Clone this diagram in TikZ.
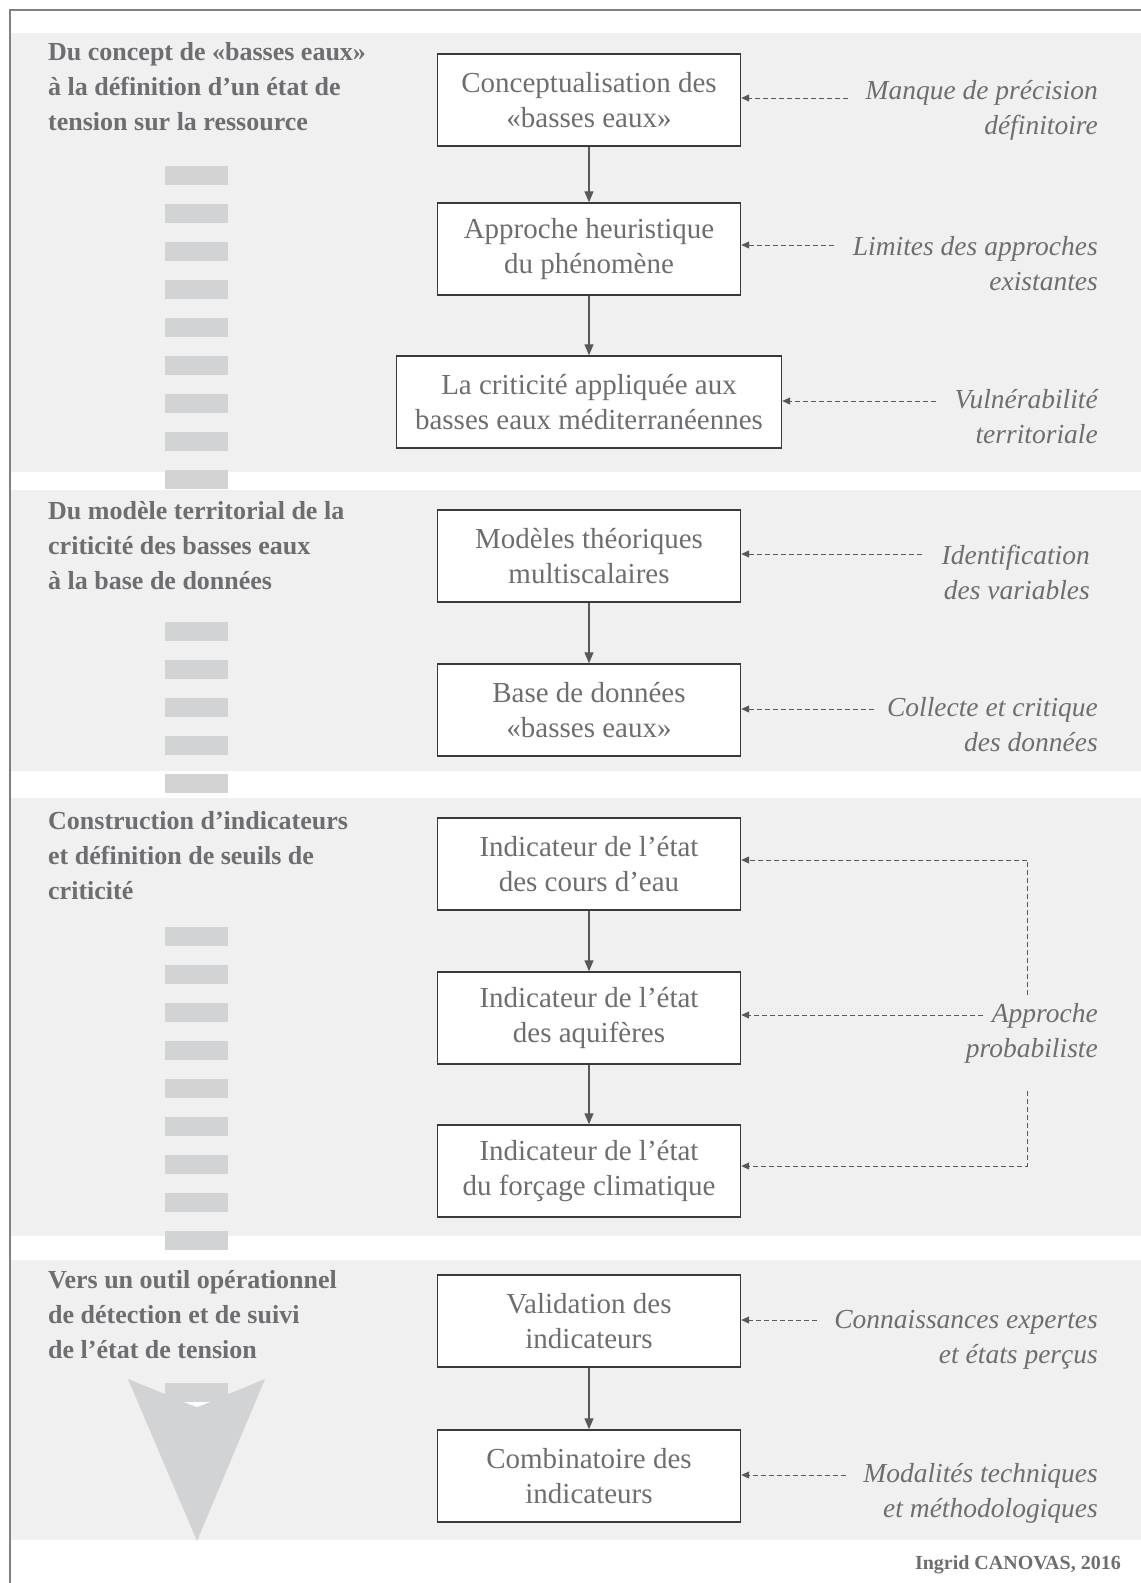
\documentclass[tikz,border=0pt]{standalone}
\usepackage{fontspec}
\setmainfont{Liberation Serif}
\usetikzlibrary{arrows.meta,calc}
\definecolor{band}{HTML}{F0F0F0}
\definecolor{dashc}{HTML}{D1D3D4}
\definecolor{txt}{HTML}{6D6E71}
\definecolor{boxline}{HTML}{3A3A3A}
\definecolor{arr}{HTML}{58595B}
\begin{document}
\begin{tikzpicture}[x=1pt,y=-1pt,
  stepbox/.style={draw=boxline, line width=1.4pt, fill=white, minimum width=303pt, minimum height=92pt, align=center, text=txt, font=\fontsize{29}{35}\selectfont, inner sep=0pt},
  lab/.style={align=right, text=txt, font=\fontsize{27.5}{35}\selectfont\itshape, anchor=east, inner sep=0pt},
  head/.style={align=left, text=txt, font=\fontsize{26}{35}\selectfont\bfseries, anchor=north west, inner sep=0pt},
  flow/.style={draw=arr, line width=1.2pt, -{Triangle[length=11pt,width=9pt]}},
  hint/.style={draw=arr, line width=1pt, dash pattern=on 5pt off 3pt, -{Triangle[length=8pt,width=7pt]}},
  hintline/.style={draw=arr, line width=1pt, dash pattern=on 5pt off 3pt},
  dsh/.style={fill=dashc}]
\useasboundingbox (0,0) rectangle (1141,1583);
\clip (0,0) rectangle (1141,1583);
\fill[white] (0,0) rectangle (1141,1583);
% bands
\fill[band] (11,33) rectangle (1141,472);
\fill[band] (11,490) rectangle (1141,771);
\fill[band] (11,798) rectangle (1141,1236);
\fill[band] (11,1260) rectangle (1141,1540);
\draw[gray, line width=2pt] (10,10) rectangle (1170,1620);
% dashes
\foreach \y in {166,204,...,470} {\fill[dashc] (165,\y) rectangle (228,\y+19);}
\foreach \y in {622,660,...,774} {\fill[dashc] (165,\y) rectangle (228,\y+19);}
\foreach \y in {927,965,...,1231} {\fill[dashc] (165,\y) rectangle (228,\y+19);}
% big arrow
\fill[dashc] (128,1379) -- (197,1407) -- (265,1379) -- (197,1541) -- cycle;
\fill[dashc] (165,1383) rectangle (228,1402);
\fill[white] (184,1402) -- (210,1402) -- (197,1407) -- cycle;
% headers
\node[head] (h1) at (48,42) {Du concept de «basses eaux»\\à la définition d’un état de\\tension sur la ressource};
\node[head] (h2) at (48,501) {Du modèle territorial de la\\criticité des basses eaux\\à la base de données};
\node[head] (h3) at (48,811) {Construction d’indicateurs\\et définition de seuils de\\criticité};
\node[head] (h4) at (48,1270) {Vers un outil opérationnel\\de détection et de suivi\\de l’état de tension};
% boxes
\node[stepbox] (b1) at (589,100) {Conceptualisation des\\«basses eaux»};
\node[stepbox] (b2) at (589,249) {Approche heuristique\\du phénomène};
\node[stepbox, minimum width=385pt] (b3) at (589,402) {La criticité appliquée aux\\basses eaux méditerranéennes};
\node[stepbox] (b4) at (589,556) {Modèles théoriques\\multiscalaires};
\node[stepbox] (b5) at (589,710) {Base de données\\«basses eaux»};
\node[stepbox] (b6) at (589,864) {Indicateur de l’état\\des cours d’eau};
\node[stepbox] (b7) at (589,1018) {Indicateur de l’état\\des aquifères};
\node[stepbox] (b8) at (589,1171) {Indicateur de l’état\\du forçage climatique};
\node[stepbox] (b9) at (589,1321) {Validation des\\indicateurs};
\node[stepbox] (b10) at (589,1476) {Combinatoire des\\indicateurs};
\draw[flow] (b1.south) -- (b2.north);
\draw[flow] (b2.south) -- (b3.north);
\draw[flow] (b4.south) -- (b5.north);
\draw[flow] (b6.south) -- (b7.north);
\draw[flow] (b7.south) -- (b8.north);
\draw[flow] (b9.south) -- (b10.north);
% labels
\node[lab] (l1) at (1098,110) {Manque de précision\\définitoire};
\node[lab] (l2) at (1098,264) {Limites des approches\\existantes};
\node[lab] (l3) at (1098,417) {Vulnérabilité\\territoriale};
\node[lab] (l4) at (1090,572) {Identification\\des variables};
\node[lab] (l5) at (1098,725) {Collecte et critique\\des données};
\node[lab] (l6) at (1098,1033) {Approche\\probabiliste};
\node[lab] (l9) at (1098,1340) {Connaissances expertes\\et états perçus};
\node[lab] (l10) at (1098,1493) {Modalités techniques\\et méthodologiques};
\coordinate (s1) at (848,98);
\coordinate (s2) at (834,245);
\coordinate (s3) at (936,401);
\coordinate (s4) at (922,554);
\coordinate (s5) at (874,709);
\coordinate (s9) at (817,1320);
\coordinate (s10) at (846,1475);
\draw[hint] (s1) -- (s1 -| b1.east);
\draw[hint] (s2) -- (s2 -| b2.east);
\draw[hint] (s3) -- (s3 -| b3.east);
\draw[hint] (s4) -- (s4 -| b4.east);
\draw[hint] (s5) -- (s5 -| b5.east);
\draw[hint] (s9) -- (s9 -| b9.east);
\draw[hint] (s10) -- (s10 -| b10.east);
\coordinate (p1) at (1027,860);
\coordinate (p2) at (1027,995);
\coordinate (p3) at (1027,1091);
\coordinate (p4) at (1027,1166);
\coordinate (m) at (983,1015);
\draw[hintline] (p2) -- (p1);
\draw[hint] (p1) -- (p1 -| b6.east);
\draw[hint] (m) -- (m -| b7.east);
\draw[hint] (p3) -- (p4) -- (p4 -| b8.east);
% credit
\node[anchor=east, text=txt, font=\fontsize{20}{22}\selectfont\bfseries, inner sep=0pt] (cr) at (1121,1565) {Ingrid CANOVAS, 2016};
\end{tikzpicture}
\end{document}
